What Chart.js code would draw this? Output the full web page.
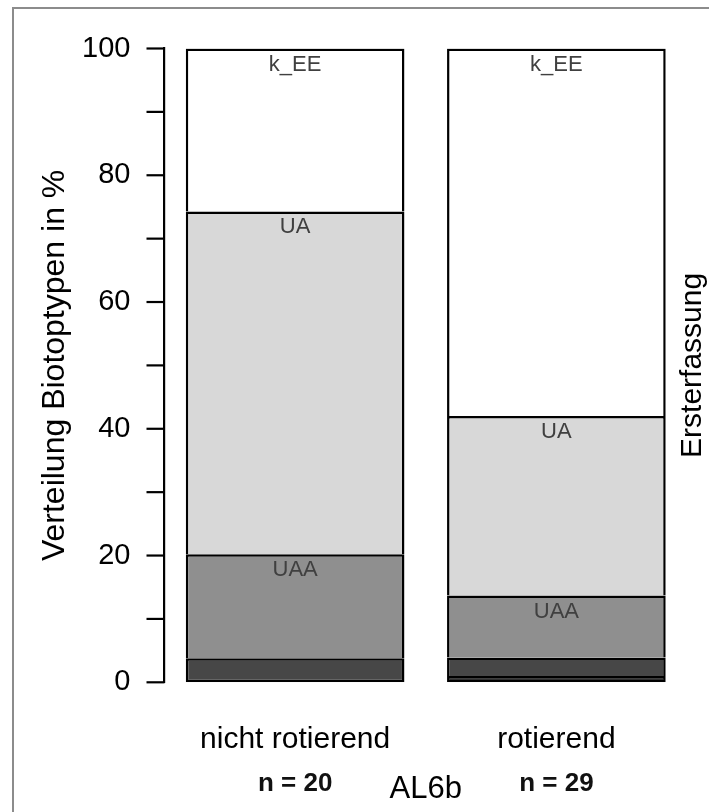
<!DOCTYPE html>
<html>
<head>
<meta charset="utf-8">
<script src="https://cdn.jsdelivr.net/npm/chart.js@4.4.1/dist/chart.umd.min.js"></script>
<style>
    html, body { margin: 0; padding: 0; background: #fff; overflow: hidden; }
    #wrap { position: relative; width: 709px; height: 812px; }
    #chart { position: absolute; left: 0; top: 0; }
    #frame {
        position: absolute; left: 12px; top: 7px; width: 720px; height: 830px;
        border-left: 2px solid #8c8c8c; border-top: 2px solid #8c8c8c;
        pointer-events: none;
    }
</style>
</head>
<body>
<div id="wrap">
    <canvas id="chart" width="709" height="812"></canvas>
    <div id="frame"></div>
</div>
<script>
(function (global) {
    "use strict";

    // ── Data ──

    var categories  = ["nicht rotierend", "rotierend"];
    var sampleSizes = ["n = 20", "n = 29"];
    var groupLabel  = "AL6b";
    var yTitle      = "Verteilung Biotoptypen in %";
    var sideTitle   = "Ersterfassung";
    var yTickLabels = [0, 20, 40, 60, 80, 100];

    // stacked from bottom to top, percent
    var segBlack = [0, 1.0];
    var segDark  = [3.8, 2.9];
    var segUAA   = [16.4, 9.8];
    var segUA    = [54.1, 28.3];
    var segKEE   = [25.7, 58.0];

    var segNames  = ["", "", "UAA", "UA", "k_EE"];
    var segColors = ["#000000", "#474747", "#8f8f8f", "#d8d8d8", "#ffffff"];

    var FONT = "'Liberation Sans', Arial, sans-serif";

    // ── Helpers ──

    var segValues = [segBlack, segDark, segUAA, segUA, segKEE];

    function lowestSegment(dataIndex) {
        for (var i = 0; i < segValues.length; i++) {
            if (segValues[i][dataIndex] > 0) return i;
        }
        return 0;
    }

    var datasets = segValues.map(function (vals, i) {
        return {
            label: segNames[i],
            data: vals,
            backgroundColor: segColors[i],
            borderColor: "#000",
            borderWidth: 2.5,
            borderSkipped: function (ctx) {
                return ctx.datasetIndex === lowestSegment(ctx.dataIndex) ? false : "start";
            },
            barPercentage: 0.837,
            categoryPercentage: 1.0
        };
    });

    // ── Plugins ──

    // minor / major tick marks left of the y axis line
    var tickMarks = {
        id: "tickMarks",
        afterDraw: function (chart) {
            var y = chart.scales.y;
            var ctx = chart.ctx;
            var left = chart.chartArea.left;
            ctx.save();
            ctx.strokeStyle = "#000";
            ctx.lineWidth = 2.2;
            y.ticks.forEach(function (t) {
                var py = y.getPixelForValue(t.value);
                var len = t.value % 10 === 0 ? 18 : 11.5;
                ctx.beginPath();
                ctx.moveTo(left - len, py);
                ctx.lineTo(left, py);
                ctx.stroke();
            });
            ctx.restore();
        }
    };

    // segment names inside bars + right side title
    var segmentLabels = {
        id: "segmentLabels",
        afterDatasetsDraw: function (chart) {
            var ctx = chart.ctx;
            ctx.save();
            ctx.font = "22px " + FONT;
            ctx.fillStyle = "#404040";
            ctx.textAlign = "center";
            ctx.textBaseline = "middle";
            chart.data.datasets.forEach(function (ds, di) {
                if (!ds.label) return;
                var meta = chart.getDatasetMeta(di);
                meta.data.forEach(function (el, i) {
                    if (ds.data[i] < 5) return;
                    ctx.fillText(ds.label, el.x, el.y + 16);
                });
            });

            var area = chart.chartArea;
            ctx.font = "30px " + FONT;
            ctx.fillStyle = "#000";
            ctx.translate(693, (area.top + area.bottom) / 2);
            ctx.rotate(-Math.PI / 2);
            ctx.fillText(sideTitle, 0, 0);
            ctx.restore();
        }
    };

    // ── Render ──

    function renderChart() {
        var canvas = document.getElementById("chart");

        new Chart(canvas, {
            type: "bar",
            data: {
                labels: categories,
                datasets: datasets
            },
            options: {
                responsive: false,
                animation: false,
                devicePixelRatio: 1,
                layout: { padding: { top: 48.5, right: 22, bottom: 0, left: 0 } },
                plugins: {
                    legend: { display: false },
                    tooltip: { enabled: false }
                },
                scales: {
                    x: {
                        stacked: true,
                        position: "bottom",
                        grid: { display: false },
                        border: { display: false },
                        ticks: {
                            padding: 31,
                            color: "#000",
                            maxRotation: 0,
                            font: { family: FONT, size: 30 }
                        },
                        afterFit: function (scale) { scale.height = 76; }
                    },
                    x2: {
                        type: "category",
                        labels: sampleSizes,
                        position: "bottom",
                        offset: true,
                        grid: { display: false },
                        border: { display: false },
                        ticks: {
                            padding: 2,
                            color: "#111",
                            maxRotation: 0,
                            font: { family: FONT, size: 26, weight: "bold" }
                        },
                        title: {
                            display: true,
                            text: groupLabel,
                            color: "#000",
                            padding: { top: 0, bottom: 3.5 },
                            font: { family: FONT, size: 31 }
                        },
                        afterFit: function (scale) { scale.height = 53.7; }
                    },
                    y: {
                        stacked: true,
                        min: 0,
                        max: 100,
                        grid: { display: false },
                        border: { display: true, color: "#000", width: 2.2 },
                        ticks: {
                            stepSize: 5,
                            padding: 26,
                            color: "#000",
                            font: { family: FONT, size: 29 },
                            callback: function (v) {
                                return yTickLabels.indexOf(v) >= 0 ? String(v) : "";
                            }
                        },
                        title: {
                            display: true,
                            text: yTitle,
                            color: "#000",
                            padding: { top: 36, bottom: 0 },
                            font: { family: FONT, size: 32 }
                        },
                        afterFit: function (scale) { scale.width = 164.5; }
                    }
                }
            },
            plugins: [tickMarks, segmentLabels]
        });
    }

    document.addEventListener("DOMContentLoaded", renderChart);

})(window);
</script>
</body>
</html>
